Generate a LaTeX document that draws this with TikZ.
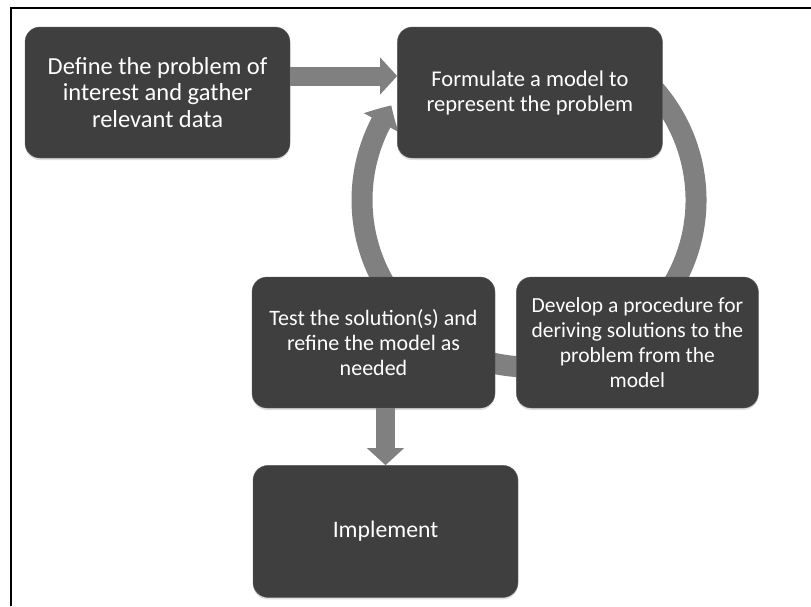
\documentclass[tikz,border=0pt]{standalone}
\usepackage{fontspec}
\setmainfont{Carlito}
\usetikzlibrary{arrows,arrows.meta,bending,shapes,calc,positioning,shadows}
\definecolor{boxgray}{HTML}{3f3f3f}
\definecolor{arrowgray}{HTML}{808080}

\begin{document}
\begin{tikzpicture}[x=1pt,y=-1pt,
		stage/.style={rounded corners=15pt,fill=boxgray,draw=boxgray!85!white,thin,
			text=white,align=center,minimum height=131pt,inner sep=2pt,
			font=\fontsize{22}{25}\selectfont,
			drop shadow={opacity=0.25,shadow xshift=0pt,shadow yshift=-2pt}},
		flow/.style={draw=arrowgray,line width=19pt,-{Triangle[width=36pt,length=17pt]}},
		ring/.style={draw=arrowgray,line width=21pt,-{Triangle[width=38pt,length=20pt,bend]}}]
		\useasboundingbox (0,0) rectangle (811,606);
		% frame
		\draw[line width=2pt] (10.5,606) -- (10.5,8) -- (811,8);

		% cycle behind the stages
		\coordinate (c) at (529,200);
		\draw[ring] ($(c)+(-60:167)$) arc[start angle=-60,end angle=214.5,radius=167];

		% nodes
		\node[stage,minimum width=265pt,font=\fontsize{24.5}{26.7}\selectfont] (1) at (157.5,92.5) {Define the problem of\\interest and gather\\relevant data};
		\node[stage,minimum width=265pt,font=\fontsize{22.5}{25}\selectfont] (2) [right=107pt of 1] {Formulate a model to\\represent the problem};
		\node[stage,minimum width=243pt] (3) at (373.5,342.5) {Test the solution(s) and\\refine the model as\\needed};
		\node[stage,minimum width=242pt,font=\fontsize{21.5}{25}\selectfont] (4) [right=21pt of 3] {Develop a procedure for\\deriving solutions to the\\problem from the\\model};
		\node[stage,minimum width=265pt,minimum height=132pt,font=\fontsize{23.7}{26}\selectfont] (5) [below=57pt of 3,xshift=12pt] {Implement};

		\draw[flow] ([yshift=16.5pt]1.east) -- ([yshift=16.5pt]2.west);
		\draw[flow] (5.north |- 3.south) -- (5.north);
\end{tikzpicture}
\end{document}
